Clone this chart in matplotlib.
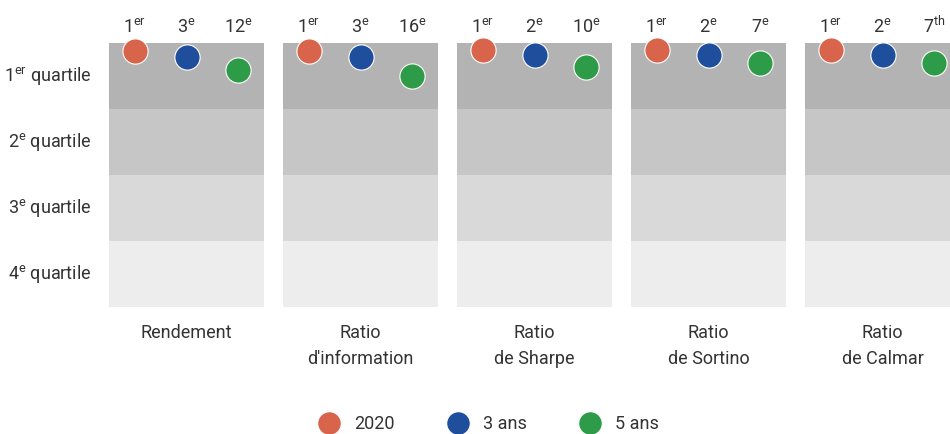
import matplotlib
matplotlib.use("Agg")
import matplotlib.pyplot as plt
from matplotlib.lines import Line2D
from matplotlib import font_manager

names = {f.name for f in font_manager.fontManager.ttflist}
FONT = "Liberation Sans Narrow" if "Liberation Sans Narrow" in names else "Roboto"
plt.rcParams['font.family'] = [FONT, 'DejaVu Sans']
plt.rcParams['mathtext.fontset'] = 'custom'
plt.rcParams['mathtext.rm'] = FONT
plt.rcParams['mathtext.it'] = FONT

# ---- data ----
metrics = ["Rendement", "Ratio\nd'information", "Ratio\nde Sharpe", "Ratio\nde Sortino", "Ratio\nde Calmar"]
series = ["2020", "3 ans", "5 ans"]
# percentile position (0 = top of 1st quartile, 100 = bottom of 4th)
pct_2020 = [2.9, 2.9, 2.8, 2.8, 2.8]
pct_3ans = [5.4, 5.3, 4.4, 4.4, 4.4]
pct_5ans = [10.1, 12.6, 9.2, 7.6, 7.6]
rank_2020 = ["1er", "1er", "1er", "1er", "1er"]
rank_3ans = ["3e", "3e", "2e", "2e", "2e"]
rank_5ans = ["12e", "16e", "10e", "7e", "7th"]
quartile_labels = [("1", "er"), ("2", "e"), ("3", "e"), ("4", "e")]

colors = ["#D8644B", "#1F4E9C", "#2E9B48"]
band_colors = ["#B3B3B3", "#C6C6C6", "#D9D9D9", "#EDEDED"]
TXT = "#333333"

W, H = 950, 434
fig = plt.figure(figsize=(W / 100, H / 100), dpi=100)

left0, pw, step = 109, 155, 174
top, bot = 43, 307
xs = [1 / 6, 0.5, 5 / 6]

def sup(num, s):
    return num + r"$^{\mathrm{" + s + "}}$"

def split_rank(r):
    i = 0
    while i < len(r) and r[i].isdigit():
        i += 1
    return r[:i], r[i:]

all_pct = [pct_2020, pct_3ans, pct_5ans]
all_rank = [rank_2020, rank_3ans, rank_5ans]

for i, m in enumerate(metrics):
    x0 = left0 + i * step
    ax = fig.add_axes([x0 / W, 1 - bot / H, pw / W, (bot - top) / H])
    ax.set_xlim(0, 1)
    ax.set_ylim(100, 0)
    for q in range(4):
        ax.axhspan(q * 25, (q + 1) * 25, color=band_colors[q], lw=0, zorder=0)
    for s in range(3):
        ax.scatter([xs[s]], [all_pct[s][i]], s=330, color=colors[s],
                   edgecolors="white", linewidths=0.8, zorder=3, clip_on=False)
        n, sp = split_rank(all_rank[s][i])
        ax.text(xs[s], -4.0, sup(n, sp), ha="center", va="baseline",
                fontsize=13, color=TXT)
    ax.text(0.5, 106.3, m, ha="center", va="top", fontsize=13, color=TXT,
            linespacing=1.6)
    for sp_ in ax.spines.values():
        sp_.set_visible(False)
    ax.set_xticks([])
    ax.set_yticks([])
    if i == 0:
        for q, (n, s) in enumerate(quartile_labels):
            ax.text(-0.11, q * 25 + 12.5, sup(n, s) + " quartile", ha="right",
                    va="center", fontsize=13, color=TXT)

handles = [Line2D([0], [0], marker="o", ls="none", markersize=17,
                  markerfacecolor=c, markeredgecolor="white", markeredgewidth=0.8)
           for c in colors]
fig.legend(handles, series, loc="center", bbox_to_anchor=(485 / W, 1 - 424 / H),
           ncol=3, frameon=False, fontsize=13, columnspacing=2.5,
           handletextpad=0.4, labelcolor=TXT)

fig.savefig("out.png", dpi=100)
